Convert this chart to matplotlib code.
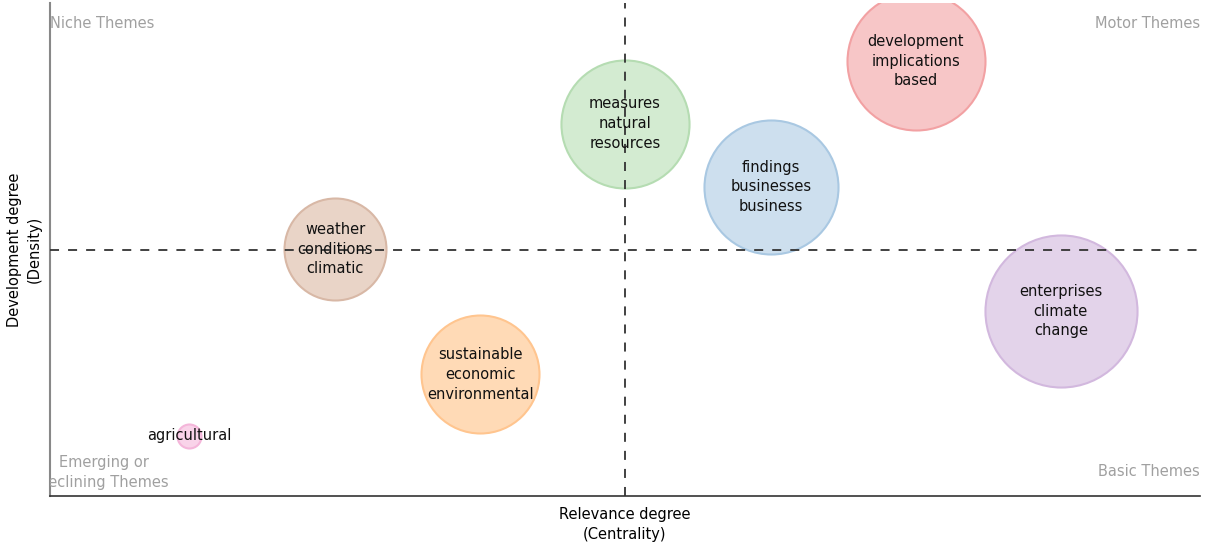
import matplotlib

matplotlib.use("Agg")
import matplotlib.pyplot as plt

plt.rcParams["font.family"] = ["DejaVu Sans"]

# strategic diagram: centrality (x) vs density (y), bubble area ~ weight
themes = [
    "development\nimplications\nbased",
    "measures\nnatural\nresources",
    "findings\nbusinesses\nbusiness",
    "weather\nconditions\nclimatic",
    "sustainable\neconomic\nenvironmental",
    "enterprises\nclimate\nchange",
    "agricultural",
]
centrality = [0.753, 0.500, 0.627, 0.248, 0.374, 0.879, 0.121]
density = [0.882, 0.755, 0.627, 0.501, 0.247, 0.375, 0.122]
weight = [47.6, 41.0, 44.9, 26.0, 34.8, 57.8, 1.44]
fills = ["#f7c6c7", "#d3ebd1", "#cddfee", "#e9d4c7", "#ffdab6", "#e3d3ea", "#f9d3e9"]
edges = ["#f2a1a3", "#b5dcb2", "#a9c8e2", "#d8b8a6", "#ffc58f", "#d2b8de", "#f4b6da"]

fig = plt.figure(figsize=(12.05, 5.46), dpi=100)
ax = fig.add_axes([50 / 1205, 50 / 546, 1150 / 1205, 493 / 546])
ax.set_xlim(0, 1)
ax.set_ylim(0, 1)

for x, y, w, fc, ec in zip(centrality, density, weight, fills, edges):
    ax.scatter(x, y, s=w * 207.4, facecolors=fc, edgecolors=ec, linewidths=1.5, zorder=2)

ax.axvline(0.5, color="#333333", linestyle=(0, (5, 5)), linewidth=1.3, zorder=3)
ax.axhline(0.5, color="#333333", linestyle=(0, (5, 5)), linewidth=1.3, zorder=3)

for x, y, label in zip(centrality, density, themes):
    ax.text(x, y, label, ha="center", va="center", fontsize=10.5, linespacing=1.4,
            color="#111111", zorder=4)

grey = "#a0a0a0"
ax.text(0.0, 0.958, "Niche Themes", ha="left", va="center", fontsize=10.5, color=grey)
ax.text(1.0, 0.958, "Motor Themes", ha="right", va="center", fontsize=10.5, color=grey)
ax.text(1.0, 0.050, "Basic Themes", ha="right", va="center", fontsize=10.5, color=grey)
ax.text(0.047, 0.048, "Emerging or\ndeclining Themes", ha="center", va="center", fontsize=10.5,
        color=grey, linespacing=1.4, clip_on=True)

ax.set_xticks([])
ax.set_yticks([])
for side in ["top", "right"]:
    ax.spines[side].set_visible(False)
ax.spines["left"].set_color("#888888")
ax.spines["left"].set_linewidth(1.5)
ax.spines["bottom"].set_color("#333333")
ax.spines["bottom"].set_linewidth(1.2)

ax.set_xlabel("Relevance degree\n(Centrality)", fontsize=10.5, linespacing=1.4, labelpad=8)
ax.set_ylabel("Development degree\n(Density)", fontsize=10.5, linespacing=1.4, labelpad=6)

fig.savefig("out.png", dpi=100)
